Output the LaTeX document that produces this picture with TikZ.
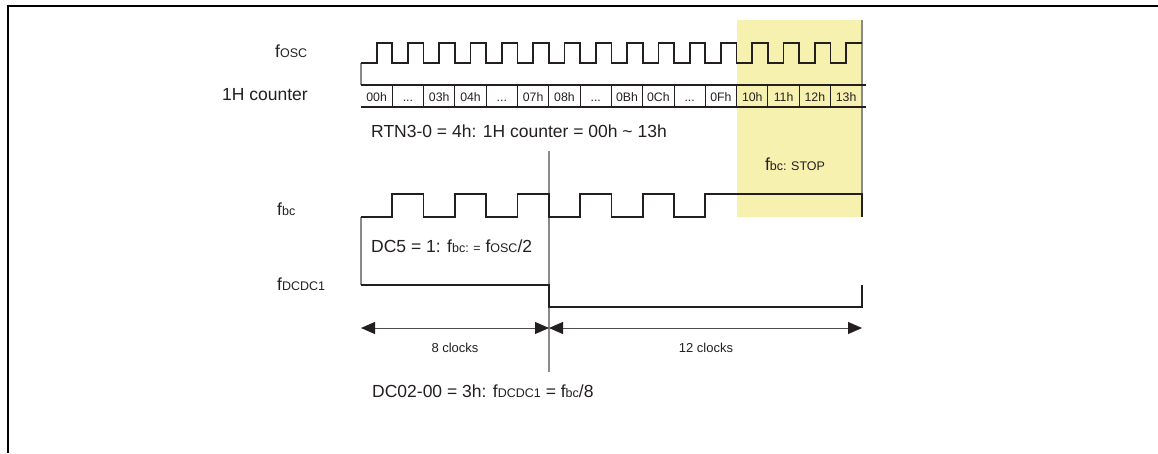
\documentclass[tikz,border=0pt]{standalone}
\usepackage{fontspec}
\setmainfont{Liberation Sans}
\usetikzlibrary{arrows.meta}
\definecolor{ink}{HTML}{231F20}
\definecolor{guide}{HTML}{8A8A8A}
\definecolor{stopyel}{HTML}{F7F1B0}
\newcommand{\smtxt}[1]{{\fontsize{12.5}{14}\selectfont #1}}
\newcommand{\ellip}{...}
\tikzset{
  wave/.style={draw=ink, line width=1.7pt, line join=miter},
  guideline/.style={draw=guide, line width=1.1pt},
  frameline/.style={draw=black, line width=1.8pt},
  lbl/.style={anchor=base west, inner sep=0pt, text=ink},
  celltxt/.style={anchor=base, inner sep=0pt, text=ink, font=\fontsize{12.3}{14}\selectfont},
  cellsep/.style={draw=ink, line width=0.9pt},
  rowline/.style={draw=ink, line width=1.6pt},
  dimarrow/.style={draw=ink!80, line width=1pt, {Triangle[length=14pt,width=12pt,color=ink,fill=ink]}-{Triangle[length=14pt,width=12pt,color=ink,fill=ink]}},
  cnttxt/.style={anchor=base, inner sep=0pt, text=ink, font=\fontsize{13}{15}\selectfont}
}
\begin{document}
\begin{tikzpicture}[x=1pt, y=-1pt, font=\fontsize{17.5}{21}\selectfont]
\useasboundingbox (0,0) rectangle (1158,453);
% frame
\draw[frameline] (8,453) -- (8,6) -- (1158,6);
% yellow stop region
\fill[stopyel] (737,20) rectangle (862,217);
% guide lines
\draw[guideline] (361,63) -- (361,85);
\draw[guideline] (361,217) -- (361,285);
\draw[guideline] (549,151) -- (549,372);
\draw[guideline] (862,20) -- (862,217);
% fosc
\draw[wave] (361,63) \foreach \k in {0,...,14} { -- ++(15.65,0) -- ++(0,-20) -- ++(15.65,0) -- ++(0,20) } -- ++(15.65,0) -- ++(0,-20) -- ++(15.65,0);
% counter row
\draw[rowline] (361,85) -- (866,85);
\draw[rowline] (361,107) -- (866,107);
\foreach \k in {1,...,15} { \draw[cellsep] ({361+31.3*\k},85) -- ({361+31.3*\k},107); }
\foreach \t [count=\i from 0] in {00h,\ellip,03h,04h,\ellip,07h,08h,\ellip,0Bh,0Ch,\ellip,0Fh,10h,11h,12h,13h} {
  \node[celltxt] (cell\i) at ({361+31.3*\i+15.65},101.5) {\t};
}
% fbc
\draw[wave] (361,217) \foreach \k in {0,...,4} { -- ++(31.3,0) -- ++(0,-23) -- ++(31.3,0) -- ++(0,23) } -- ++(31.3,0) -- ++(0,-23) -- (862,194) -- (862,217);
% fDCDC1
\draw[wave] (361,285) -- (549,285) -- (549,306.7) -- (862,306.7) -- (862,285);
% dimension arrows
\coordinate (a0) at (361,328);
\coordinate (a1) at (549,328);
\coordinate (a2) at (862,328);
\draw[dimarrow] (a0) -- (a1);
\draw[dimarrow] (a1) -- (a2);
\node[cnttxt] (c8) at (455,352) {8 clocks};
\node[cnttxt] (c12) at (706,352) {12 clocks};
% labels
\node[lbl] (lfosc) at (275,57) {f\smtxt{OSC}};
\node[lbl, anchor=base east] (lcnt) at (308,100) {1H counter};
\node[lbl] (lfbc) at (277,215) {f\smtxt{bc}};
\node[lbl] (lfdc) at (277,290) {f\smtxt{DCDC1}};
\node[lbl] (rtn) at (371,137) {RTN3-0 = 4h: 1H counter = 00h \textasciitilde{} 13h};
\node[lbl] (dc5) at (371,252) {DC5 = 1: f\smtxt{bc: =} f\smtxt{OSC}/2};
\node[lbl] (dc02) at (372,397) {DC02-00 = 3h: f\smtxt{DCDC1} = f\smtxt{bc}/8};
\node[lbl, anchor=base] (stop) at (795,170) {f\smtxt{bc: STOP}};
\end{tikzpicture}
\end{document}
